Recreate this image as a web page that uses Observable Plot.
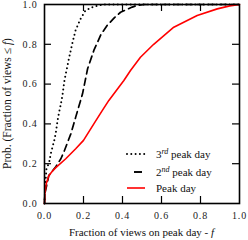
<!DOCTYPE html>
<html>
<head>
<meta charset="utf-8">
<script src="https://cdn.jsdelivr.net/npm/d3@7"></script>
<script src="https://cdn.jsdelivr.net/npm/@observablehq/plot@0.6"></script>
<style>
  html, body { margin: 0; padding: 0; background: #fff; }
  #chart svg { display: block; }
</style>
</head>
<body>
<div id="chart"></div>
<script>
// ---- data ----
const peakF = [0, 0.002, 0.009, 0.022, 0.04, 0.058, 0.109, 0.16, 0.2, 0.253, 0.296, 0.33, 0.407, 0.441, 0.492, 0.56, 0.663, 0.783, 0.886, 0.95, 1.0];
const peakP = [0, 0.05, 0.099, 0.14, 0.162, 0.18, 0.225, 0.275, 0.317, 0.4, 0.467, 0.518, 0.618, 0.668, 0.735, 0.8, 0.886, 0.945, 0.978, 0.993, 1.0];

const secondF = [0, 0.002, 0.022, 0.058, 0.084, 0.1, 0.135, 0.16, 0.195, 0.221, 0.253, 0.29, 0.321, 0.36, 0.39, 0.45, 0.475, 0.51, 1.0];
const secondP = [0, 0.05, 0.14, 0.185, 0.225, 0.26, 0.35, 0.434, 0.551, 0.677, 0.769, 0.85, 0.894, 0.935, 0.961, 0.987, 0.995, 1.0, 1.0];

const thirdF = [0, 0.003, 0.01, 0.024, 0.032, 0.041, 0.05, 0.058, 0.067, 0.075, 0.084, 0.092, 0.101, 0.109, 0.118, 0.125, 0.142, 0.159, 0.185, 0.21, 0.253, 0.3, 1.0];
const thirdP = [0, 0.08, 0.174, 0.207, 0.25, 0.283, 0.317, 0.355, 0.417, 0.459, 0.5, 0.543, 0.611, 0.652, 0.693, 0.727, 0.802, 0.869, 0.928, 0.97, 0.99, 1.0, 1.0];

const tickValues = [0, 0.2, 0.4, 0.6, 0.8, 1.0];
const innerTicks = [0.2, 0.4, 0.6, 0.8];

const xLabel = "Fraction of views on peak day - ";
const yLabel = "Prob. (Fraction of views \u2264 ";
const legendLabels = [
  {num: "3", sup: "rd", rest: " peak day"},
  {num: "2", sup: "nd", rest: " peak day"},
  {num: "", sup: "", rest: "Peak day"}
];

const toRows = (fs, ps) => fs.map((f, i) => ({f, p: ps[i]}));
const peak = toRows(peakF, peakP);
const second = toRows(secondF, secondP);
const third = toRows(thirdF, thirdP);

const W = 248, H = 240;
const mL = 44, mR = 9, mT = 4, mB = 37;
const innerH = H - mT - mB;
const innerW = W - mL - mR;
const TICK = 7;
const serif = "'Liberation Serif', 'DejaVu Serif', serif";

const plot = Plot.plot({
  width: W, height: H,
  marginLeft: mL, marginRight: mR, marginTop: mT, marginBottom: mB,
  style: {fontFamily: serif, background: "#fff"},
  x: {domain: [0, 1]},
  y: {domain: [0, 1]},
  marks: [
    Plot.line(third, {x: "f", y: "p", stroke: "black", strokeWidth: 2, strokeDasharray: "0,4.3", strokeLinecap: "round"}),
    Plot.line(second, {x: "f", y: "p", stroke: "black", strokeWidth: 1.7, strokeDasharray: "7,4.5"}),
    Plot.line(peak, {x: "f", y: "p", stroke: "#ff0000", strokeWidth: 1.6}),
    // inward ticks on all four sides
    Plot.ruleX(innerTicks, {stroke: "black", strokeWidth: 1.2, insetTop: innerH - TICK}),
    Plot.ruleX(innerTicks, {stroke: "black", strokeWidth: 1.2, insetBottom: innerH - TICK}),
    Plot.ruleY(innerTicks, {stroke: "black", strokeWidth: 1.2, insetRight: innerW - TICK}),
    Plot.ruleY(innerTicks, {stroke: "black", strokeWidth: 1.2, insetLeft: innerW - TICK}),
    Plot.axisX({ticks: tickValues, tickFormat: d3.format(".1f"), tickSize: 0, tickPadding: 8, label: null, fontSize: 10, fill: "#222"}),
    Plot.axisY({ticks: tickValues, tickFormat: d3.format(".1f"), tickSize: 0, tickPadding: 7, label: null, fontSize: 10, fill: "#222"}),
    Plot.frame({stroke: "black", strokeWidth: 1.6})
  ]
});

document.getElementById("chart").appendChild(plot);

const svg = d3.select(plot);
svg.selectAll("g[aria-label='x-axis tick label'] text, g[aria-label='y-axis tick label'] text")
  .style("letter-spacing", "0.8px");

// x axis label
const xt = svg.append("text")
  .attr("x", mL + innerW / 2).attr("y", 236)
  .attr("text-anchor", "middle")
  .style("font-family", serif).style("font-size", "11px").attr("fill", "#111");
xt.append("tspan").text(xLabel);
xt.append("tspan").style("font-style", "italic").text("f");

// y axis label
const yt = svg.append("text")
  .attr("transform", `translate(11,${mT + innerH / 2}) rotate(-90)`)
  .attr("text-anchor", "middle")
  .style("font-family", serif).style("font-size", "11.5px").attr("fill", "#111");
yt.append("tspan").text(yLabel);
yt.append("tspan").style("font-style", "italic").text("f");
yt.append("tspan").text(")");

// legend
const lg = svg.append("g");
const rowsY = [154, 172, 188];
const styles = [
  {stroke: "black", width: 2, dash: "0,4.3", cap: "round", x1: 127, x2: 146},
  {stroke: "black", width: 1.9, dash: null, cap: "butt", x1: 134, x2: 142},
  {stroke: "#ff0000", width: 1.6, dash: null, cap: "butt", x1: 127, x2: 145}
];
legendLabels.forEach((d, i) => {
  const s = styles[i];
  const ln = lg.append("line")
    .attr("x1", s.x1).attr("x2", s.x2)
    .attr("y1", rowsY[i]).attr("y2", rowsY[i])
    .attr("stroke", s.stroke).attr("stroke-width", s.width)
    .attr("stroke-linecap", s.cap);
  if (s.dash) ln.attr("stroke-dasharray", s.dash);
  const t = lg.append("text")
    .attr("x", 156).attr("y", rowsY[i] + 3.5)
    .attr("text-anchor", "start")
    .style("font-family", serif).style("font-size", "11px").attr("fill", "#111");
  if (d.num) {
    t.append("tspan").text(d.num);
    t.append("tspan").attr("dy", -4).style("font-size", "8px").style("font-style", "italic").text(d.sup);
    t.append("tspan").attr("dy", 4).text(d.rest);
  } else {
    t.append("tspan").text(d.rest);
  }
});
</script>
</body>
</html>
